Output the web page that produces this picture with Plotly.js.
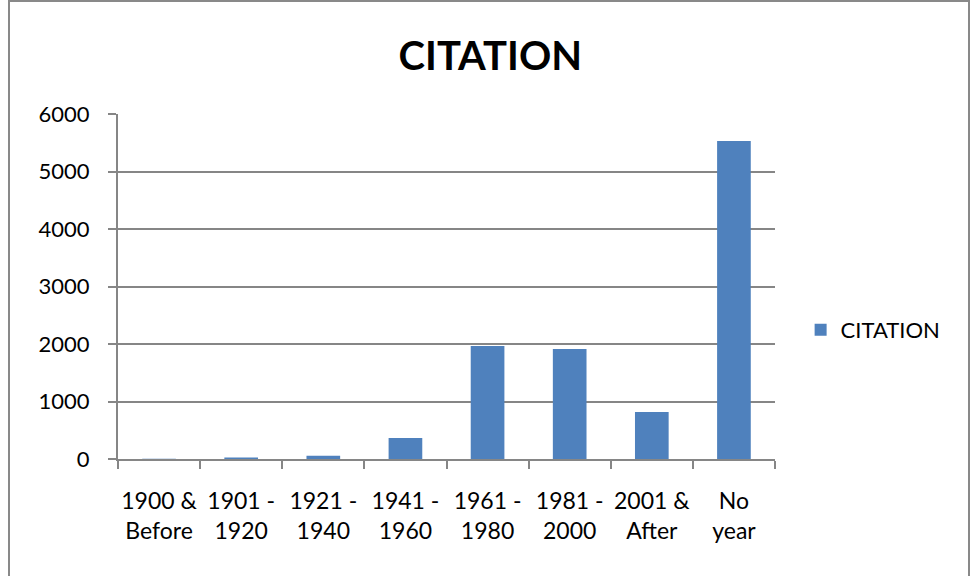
<!DOCTYPE html>
<html>
<head>
<meta charset="utf-8">
<script src="https://cdn.plot.ly/plotly-3.0.1.min.js"></script>
<style>
html,body{margin:0;padding:0;background:#fff;}
#wrap{position:relative;width:971px;height:576px;overflow:hidden;}
#chart{width:971px;height:576px;}
#frame{position:absolute;left:8px;top:0px;width:958px;height:620px;border:2px solid #898989;pointer-events:none;}
</style>
</head>
<body>
<div id="wrap"><div id="chart"></div><div id="frame"></div></div>
<script>
const categories = ["1900 &<br>Before","1901 -<br>1920","1921 -<br>1940","1941 -<br>1960","1961 -<br>1980","1981 -<br>2000","2001 &<br>After","No<br>year"];
const citation = [5, 25, 57, 365, 1965, 1913, 817, 5530];
const seriesName = "CITATION";
const titleText = "CITATION";

const font = "Lato, 'Open Sans', sans-serif";
Plotly.newPlot("chart", [{
  type: "bar",
  x: categories,
  y: citation,
  name: seriesName,
  marker: {color: "#4f81bd"},
  showlegend: true
}], {
  width: 971, height: 576,
  margin: {l: 118, r: 196, t: 114, b: 117},
  paper_bgcolor: "#fff", plot_bgcolor: "#fff",
  font: {family: font, color: "#000", size: 22},
  title: {text: "<b>" + titleText + "</b>", x: 0.505, xanchor: "center", y: 0.903, yanchor: "middle",
          font: {family: font, size: 40, color: "#000"}},
  bargap: 0.59,
  showlegend: true,
  legend: {x: 1.039, xanchor: "left", y: 0.374, yanchor: "middle", font: {size: 22, family: font}},
  xaxis: {
    type: "category", showgrid: false, showline: true, linecolor: "#868686", linewidth: 2,
    ticks: "outside", ticklen: 8, tickwidth: 2, tickcolor: "#868686", tickson: "boundaries",
    tickfont: {size: 23, family: font}, tickangle: 0, zeroline: false, ticklabelstandoff: 20
  },
  yaxis: {
    range: [0, 6000], dtick: 1000, tick0: 0, showgrid: true, gridcolor: "#868686", gridwidth: 2,
    showline: true, linecolor: "#868686", linewidth: 2, ticks: "outside", ticklen: 8, tickwidth: 2,
    tickcolor: "#868686", tickfont: {size: 22, family: font}, zeroline: false, ticklabelstandoff: 14
  }
}, {displayModeBar: false, staticPlot: true});
</script>
</body>
</html>
